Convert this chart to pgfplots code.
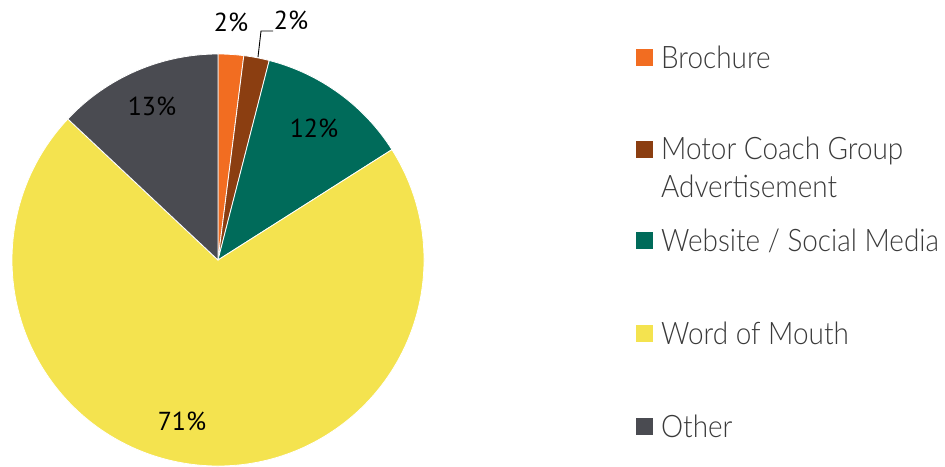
\documentclass[border=0pt]{standalone}
\usepackage{pgfplots}
\pgfplotsset{compat=1.18}
\usepackage{fontspec}
\newfontfamily\legfont{Lato Light}
\newfontfamily\numfont{PT Sans}
\definecolor{cBro}{HTML}{F26D21}
\definecolor{cMot}{HTML}{8B3E11}
\definecolor{cWeb}{HTML}{006B5A}
\definecolor{cWom}{HTML}{F4E34F}
\definecolor{cOth}{HTML}{4A4B51}
\definecolor{txt}{HTML}{3A3A3A}
\begin{document}
\begin{tikzpicture}
\begin{axis}[scale only axis, width=945pt, height=466pt,
  xmin=0, xmax=945, ymin=0, ymax=466, hide axis, clip=false]
\pgfplotsextra{
  \def\cum{0}
  \foreach \v/\c in {2/cBro, 2/cMot, 12/cWeb, 71/cWom, 13/cOth}{
    \pgfmathsetmacro\aA{90-3.6*\cum}
    \pgfmathsetmacro\aB{90-3.6*(\cum+\v)}
    \fill[\c, draw=white, line width=0.8pt] (axis cs:218,206) -- ++(\aA:206pt)
      arc[start angle=\aA, end angle=\aB, radius=206pt] -- cycle;
    \pgfmathsetmacro\tmp{\cum+\v}
    \global\let\cum\tmp
  }
  \draw[black, line width=0.9pt] (axis cs:258,409) -- (axis cs:261,435) -- (axis cs:273,435);
  \begin{scope}[every node/.style={font=\numfont\fontsize{26}{26}\selectfont, text=black, inner sep=0pt}]
    \node at (axis cs:231,444) {2\%};
    \node at (axis cs:291,446) {2\%};
    \node at (axis cs:314,338) {12\%};
    \node at (axis cs:152,360) {13\%};
    \node at (axis cs:182,45) {71\%};
  \end{scope}
  \begin{scope}[every node/.style={font=\legfont\fontsize{31}{31}\selectfont, text=txt, inner sep=0pt, anchor=base west, xscale=0.9}]
    \fill[cBro] (axis cs:635.5,399.5) rectangle (axis cs:652.5,416.5);
    \fill[cMot] (axis cs:635.5,307.5) rectangle (axis cs:652.5,324.5);
    \fill[cWeb] (axis cs:635.5,216.5) rectangle (axis cs:652.5,233.5);
    \fill[cWom] (axis cs:635.5,123.5) rectangle (axis cs:652.5,140.5);
    \fill[cOth] (axis cs:635.5,31.5) rectangle (axis cs:652.5,48.5);
    \node at (axis cs:661,397) {Brochure};
    \node at (axis cs:661,306) {Motor Coach Group};
    \node at (axis cs:661,268) {Advertisement};
    \node at (axis cs:661,214) {Website / Social Media};
    \node at (axis cs:661,121) {Word of Mouth};
    \node at (axis cs:661,29) {Other};
  \end{scope}
}
\end{axis}
\pgfresetboundingbox
\useasboundingbox (0,0) rectangle (945pt,466pt);
\end{tikzpicture}
\end{document}
